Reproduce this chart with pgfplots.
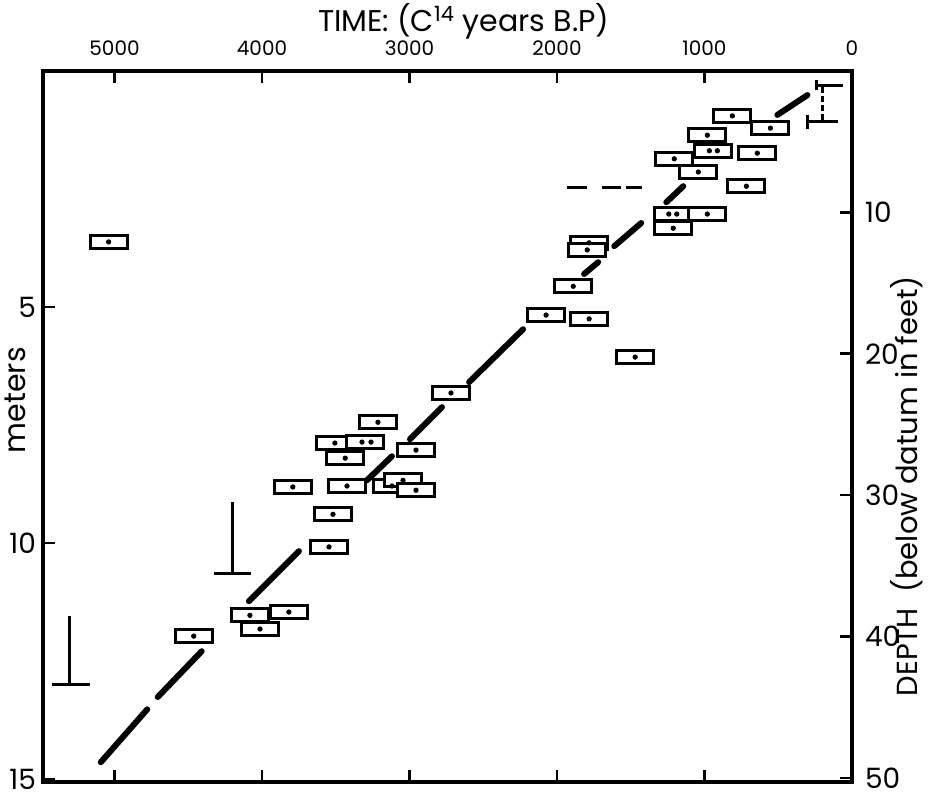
\documentclass[border=0pt]{standalone}
\usepackage{fontspec}
\setmainfont{Poppins}
\usepackage{pgfplots}
\pgfplotsset{compat=1.18}

% box centres: age (C14 yr B.P.), depth (m)
\pgfplotstableread{
age   depth
5040  3.62
811   0.95
553   1.21
981   1.36
940   1.69
642   1.74
1205  1.86
1042  2.14
716   2.44
1212  3.33
1215  3.03
981   3.03
1782  3.64
1795  3.79
1890  4.56
2074  5.17
1782  5.25
1470  6.06
2719  6.82
3214  7.44
3436  8.20
3506  7.88
3300  7.86
2956  8.03
3791  8.81
3424  8.79
3119  8.79
3044  8.67
2956  8.88
3519  9.39
3546  10.08
4014  11.82
4082  11.53
3818  11.46
4463  11.97
}\boxes

\pgfplotstableread{
age   depth
5040  3.62
811   0.95
553   1.21
981   1.36
967   1.69
913   1.69
642   1.74
1205  1.86
1042  2.14
716   2.44
1212  3.33
1242  3.03
1188  3.03
981   3.03
1782  3.64
1795  3.79
1890  4.56
2074  5.17
1782  5.25
1470  6.06
2719  6.82
3214  7.44
3436  8.20
3506  7.88
3322  7.86
3261  7.86
2956  8.03
3791  8.81
3424  8.79
3119  8.79
3044  8.67
2956  8.88
3519  9.39
3546  10.08
4014  11.82
4082  11.53
3818  11.46
4463  11.97
}\dots

\begin{document}
\begin{tikzpicture}
\begin{axis}[
  name=main,
  scale only axis,
  width=404.5pt, height=355.5pt,
  x dir=reverse, y dir=reverse,
  xmin=0, xmax=5485, ymin=0, ymax=15.06,
  xtick={0,1000,2000,3000,4000,5000},
  xticklabels={0,1000,2000,3000,4000,5000},
  xticklabel pos=upper, xtick pos=both,
  ytick={5,10,15}, yticklabels={5,10,15}, ytick pos=left,
  tick align=inside, major tick length=6pt,
  axis line style={line width=1.8pt},
  major tick style={line width=1.2pt, black},
  xticklabel style={font=\fontsize{10}{12}\selectfont, yshift=4pt},
  yticklabel style={font=\fontsize{14}{16}\selectfont},
  title={TIME: (C\textsuperscript{14} years B.P)},
  title style={font=\fontsize{15}{18}\selectfont, at={(axis description cs:0.52,1)}, anchor=base, yshift=13.5pt},
  ylabel={meters},
  ylabel style={font=\fontsize{15}{18}\selectfont, at={(axis description cs:-0.0346,0.537)}, anchor=center},
  unbounded coords=jump,
]
% trend line, drawn in pieces
\addplot[black, line width=3pt, line cap=round] coordinates {
(5093,14.64)(4778,13.52)(0,nan)
(4707,13.26)(4409,12.29)(0,nan)
(4089,11.23)(3750,10.17)(0,nan)
(3289,8.67)(3119,8.16)(0,nan)
(2997,7.80)(2780,7.12)(0,nan)
(2596,6.59)(2230,5.47)(0,nan)
(1816,4.30)(1721,4.05)(0,nan)
(1612,3.71)(1429,3.22)(0,nan)
(1259,2.78)(1144,2.44)(0,nan)
(506,0.93)(302,0.51)
};
% T-shaped bars
\addplot[black, line width=1.5pt] coordinates {
(5304,11.55)(5304,13.0)(0,nan)
(5427,13.0)(5169,13.0)(0,nan)
(4198,9.13)(4198,10.64)(0,nan)
(4327,10.64)(4076,10.64)(0,nan)
(241,0.30)(64,0.30)(0,nan)
(241,0.19)(241,0.41)(0,nan)
(302,1.08)(92,1.08)(0,nan)
(302,0.93)(302,1.23)
};
\addplot[black, line width=1.5pt, dash pattern=on 3pt off 1.5pt] coordinates {(200,0.34)(200,1.05)};
% dashed level
\addplot[black, line width=1.5pt] coordinates {
(1931,2.46)(1795,2.46)(0,nan)
(1694,2.46)(1565,2.46)(0,nan)
(1530,2.46)(1422,2.46)
};
% dated samples
\addplot[only marks, mark=square*, mark size=3.25pt,
  mark options={xscale=2.85, fill=white, draw=black, line width=1.5pt}]
  table[x=age, y=depth] {\boxes};
\addplot[only marks, mark=*, mark size=1.1pt, black] table[x=age, y=depth] {\dots};
\end{axis}

\begin{axis}[
  scale only axis,
  width=404.5pt, height=355.5pt,
  hide x axis, axis y line*=right,
  xmin=0, xmax=1, ymin=0, ymax=50.3, y dir=reverse,
  ytick={10,20,30,40,50}, yticklabels={10,20,30,40,50},
  tick align=inside, major tick length=6pt,
  axis line style={line width=1.8pt},
  major tick style={line width=1.2pt, black},
  yticklabel style={font=\fontsize{14}{16}\selectfont, xshift=3pt},
  ylabel={DEPTH\ \ (below datum in feet)},
  ylabel style={font=\fontsize{14.5}{17}\selectfont, at={(axis description cs:1.0680,0.416)}, anchor=center},
]
\addplot[draw=none] coordinates {(0,0)};
\end{axis}

\pgfresetboundingbox
\path ([shift={(-21.5pt,-7pt)}]main.south west) rectangle ([shift={(38pt,35.5pt)}]main.north east);
\end{tikzpicture}
\end{document}
